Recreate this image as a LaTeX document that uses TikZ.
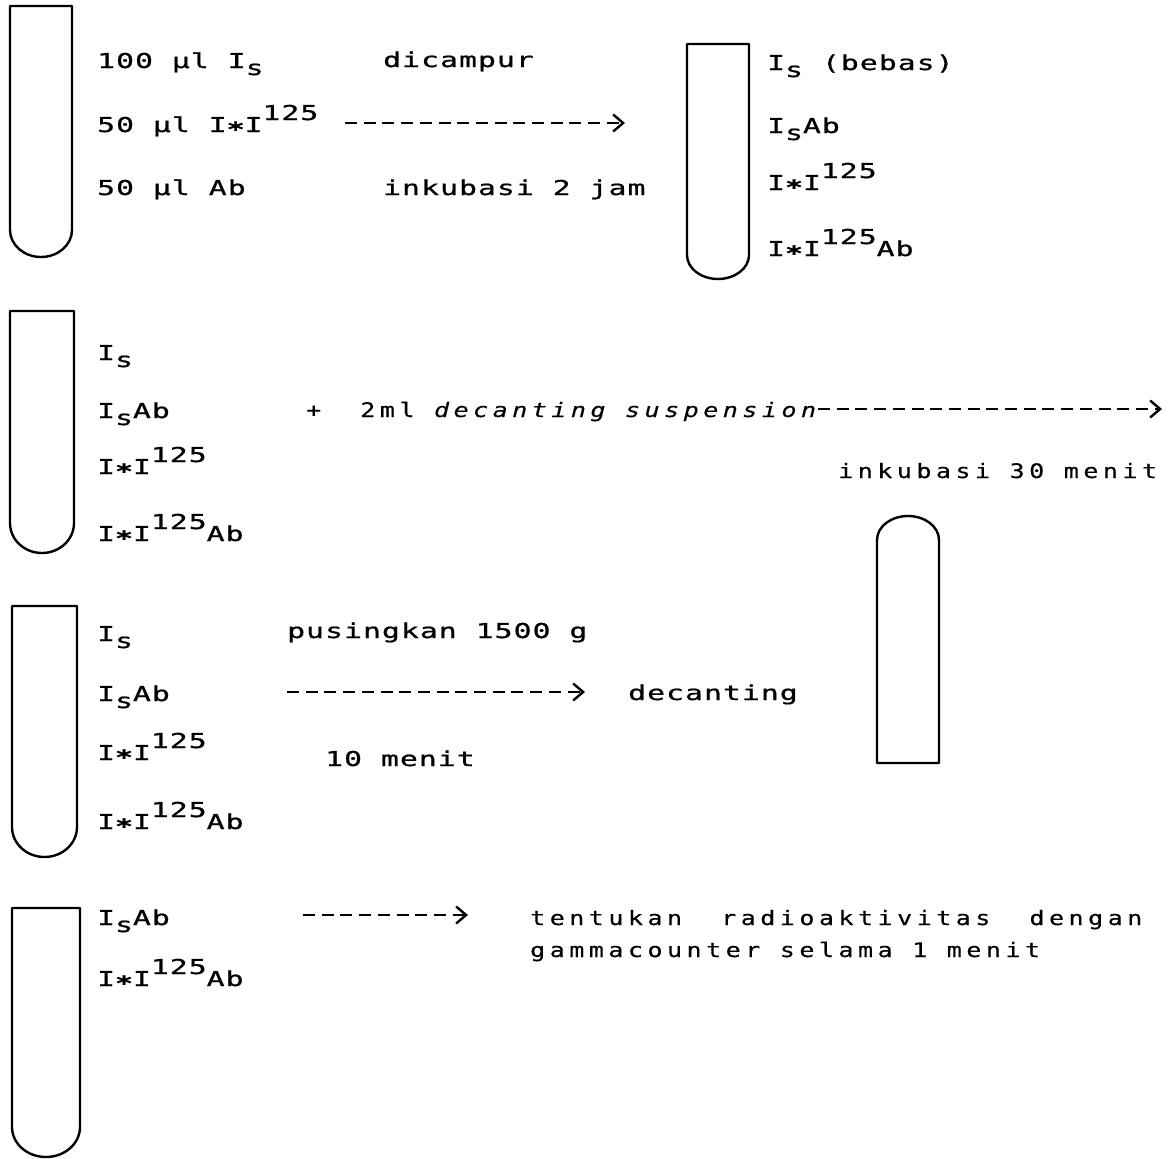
\documentclass[tikz,border=0pt]{standalone}
\usepackage{fontspec}
\usetikzlibrary{arrows.meta}
\newfontfamily\tw[FakeStretch=1.45, FakeBold=0.8, LetterSpace=5.2]{DejaVu Sans Mono}
\newfontfamily\twthin[FakeStretch=1.25, FakeBold=0.3, LetterSpace=22.5]{DejaVu Sans Mono}
\newcommand\Isb{I\raisebox{-7pt}{s}}
\newcommand\astr{\raisebox{-4.5pt}{\bfseries *}}
\newcommand\IxI{I\astr I}
\newcommand\supr[1]{\raisebox{12pt}{#1}}
\tikzset{
  txt/.style={anchor=base west, inner sep=0pt, font=\tw\fontsize{20.5}{25}\selectfont},
  thin/.style={anchor=base west, inner sep=0pt, font=\twthin\fontsize{20}{24}\selectfont},
  tube/.style={line width=2.4pt, line join=round, line cap=round},
  dasharr/.style={line width=2.6pt, dash pattern=on 12pt off 6.7pt,
    -{Straight Barb[length=10pt,width=17pt,line width=2.4pt]}}
}
\begin{document}
\begin{tikzpicture}[x=1pt,y=-1pt]
\fill[white] (0,0) rectangle (1171,1159);
\useasboundingbox (0,0) rectangle (1171,1159);

% tube 1
\draw[tube] (10,6) -- (10,230) .. controls (10,244.9) and (23.9,257) .. (41,257)
  .. controls (58.1,257) and (72,244.9) .. (72,230) -- (72,6) -- cycle;
\node[txt] (t1a) at (97,68) {100 µl \Isb};
\node[txt] (t1b) at (97,132) {50 µl \IxI\supr{125}};
\node[txt] (t1c) at (97,195) {50 µl Ab};
\node[txt] (t1d) at (383,67) {dicampur};
\node[txt] (t1e) at (383,195) {inkubasi 2 jam};
\coordinate (a1s) at (345,123);
\coordinate (a1e) at (625,123);
\draw[dasharr] (a1s) -- (a1e);

% tube 2
\draw[tube] (687,44) -- (687,255) .. controls (687,268.3) and (700.9,279) .. (718,279)
  .. controls (735.1,279) and (749,268.3) .. (749,255) -- (749,44) -- cycle;
\node[txt] (t2a) at (767,70) {\Isb\ (bebas)};
\node[txt] (t2b) at (767,133) {\Isb Ab};
\node[txt] (t2c) at (767,190) {\IxI\supr{125}};
\node[txt] (t2d) at (767,256) {\IxI\supr{125}Ab};

% tube 3
\draw[tube] (10,311) -- (10,523) .. controls (10,539.6) and (24.3,553) .. (42,553)
  .. controls (59.7,553) and (74,539.6) .. (74,523) -- (74,311) -- cycle;
\node[txt] (t3a) at (97,360) {\Isb};
\node[txt] (t3b) at (97,418) {\Isb Ab};
\node[txt] (t3c) at (97,474) {\IxI\supr{125}};
\node[txt] (t3d) at (97,541) {\IxI\supr{125}Ab};
\node[thin] (t3e) at (306,417) {+\ \ 2ml {\itshape decanting suspension}};
\coordinate (a2s) at (818,409);
\coordinate (a2e) at (1162,409);
\draw[dasharr, line width=2pt] (a2s) -- (a2e);
\node[thin] (t3f) at (838,478) {inkubasi 30 menit};

% tube 4 (inverted)
\draw[tube] (877,763) -- (877,540) .. controls (877,526.7) and (890.9,516) .. (908,516)
  .. controls (925.1,516) and (939,526.7) .. (939,540) -- (939,763) -- cycle;

% tube 5
\draw[tube] (12,606) -- (12,827) .. controls (12,843.6) and (26.55,857) .. (44.5,857)
  .. controls (62.45,857) and (77,843.6) .. (77,827) -- (77,606) -- cycle;
\node[txt] (t5a) at (97,641) {\Isb};
\node[txt] (t5b) at (97,701) {\Isb Ab};
\node[txt] (t5c) at (97,760) {\IxI\supr{125}};
\node[txt] (t5d) at (97,829) {\IxI\supr{125}Ab};
\node[txt] (t5e) at (287,638) {pusingkan 1500 g};
\coordinate (a3s) at (287,692);
\coordinate (a3e) at (585,692);
\draw[dasharr] (a3s) -- (a3e);
\node[txt] (t5f) at (628,700) {decanting};
\node[txt] (t5g) at (325,766) {10 menit};

% tube 6
\draw[tube] (12,908) -- (12,1127) .. controls (12,1143.6) and (27.2,1157) .. (46,1157)
  .. controls (64.8,1157) and (80,1143.6) .. (80,1127) -- (80,908) -- cycle;
\node[txt] (t6a) at (97,925) {\Isb Ab};
\node[txt] (t6b) at (97,986) {\IxI\supr{125}Ab};
\coordinate (a4s) at (303,915);
\coordinate (a4e) at (468,915);
\draw[dasharr] (a4s) -- (a4e);
\node[thin] (t6c) at (530,925) {tentukan\ \ radioaktivitas\ \ dengan};
\node[thin] (t6d) at (530,957) {gammacounter selama 1 menit};
\end{tikzpicture}
\end{document}
